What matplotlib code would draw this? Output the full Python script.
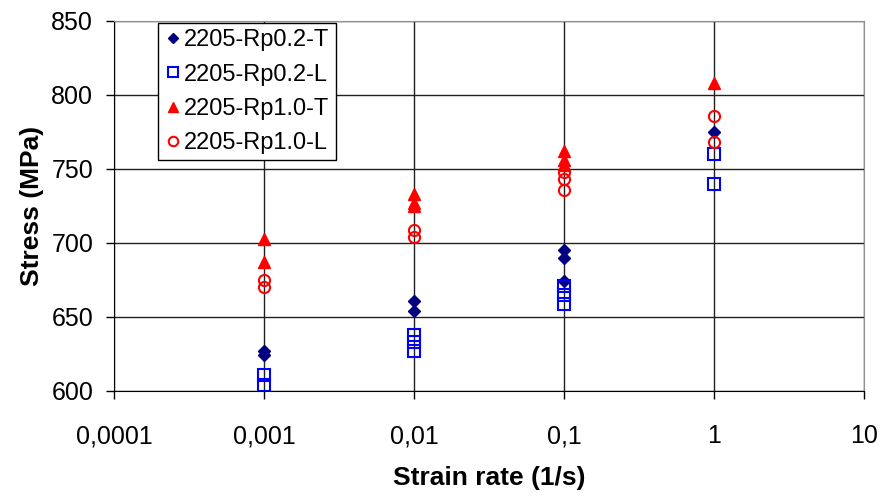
import numpy as np
import matplotlib.pyplot as plt

plt.rcParams['font.family'] = ['Liberation Sans', 'DejaVu Sans']

# strain rates (1/s) and stress values (MPa)
rp02_t_x = [0.001, 0.001, 0.01, 0.01, 0.1, 0.1, 0.1, 1]
rp02_t_y = [627, 624, 661, 654, 695, 690, 674, 775]
rp02_l_x = [0.001, 0.001, 0.01, 0.01, 0.01, 0.1, 0.1, 0.1, 1, 1]
rp02_l_y = [611, 604, 638, 633, 627, 671, 665, 659, 760, 740]
rp10_t_x = [0.001, 0.001, 0.01, 0.01, 0.01, 0.1, 0.1, 0.1, 1]
rp10_t_y = [703, 687, 733, 727, 725, 762, 756, 753, 808]
rp10_l_x = [0.001, 0.001, 0.01, 0.01, 0.1, 0.1, 0.1, 1, 1]
rp10_l_y = [675, 670, 709, 704, 748, 743, 736, 786, 768]

xticks = [0.0001, 0.001, 0.01, 0.1, 1, 10]
xticklabels = ["0,0001", "0,001", "0,01", "0,1", "1", "10"]
yticks = [600, 650, 700, 750, 800, 850]

fig = plt.figure(figsize=(8.82, 4.96), dpi=100)
ax = fig.add_axes([0.1293, 0.2117, 0.8503, 0.746])

ax.plot(rp02_t_x, rp02_t_y, linestyle="none", marker="D", markersize=6.5,
        color="#000080", label="2205-Rp0.2-T")
ax.plot(rp02_l_x, rp02_l_y, linestyle="none", marker="s", markersize=8,
        markerfacecolor="none", markeredgecolor="#0000FF", markeredgewidth=1.5,
        label="2205-Rp0.2-L")
ax.plot(rp10_t_x, rp10_t_y, linestyle="none", marker="^", markersize=9,
        color="#FF0000", label="2205-Rp1.0-T")
ax.plot(rp10_l_x, rp10_l_y, linestyle="none", marker="o", markersize=8,
        markerfacecolor="none", markeredgecolor="#FF0000", markeredgewidth=1.5,
        label="2205-Rp1.0-L")

ax.set_xscale("log")
ax.set_xlim(0.0001, 10)
ax.set_ylim(600, 850)
ax.set_xticks(xticks)
ax.set_xticklabels(xticklabels)
ax.set_yticks(yticks)
ax.minorticks_off()
ax.tick_params(labelsize=18, length=6, width=1, color="black")
ax.tick_params(axis="x", pad=18)
ax.tick_params(axis="y", pad=9)
ax.grid(True, color="#202020", linewidth=1)
ax.set_axisbelow(True)
ax.spines["top"].set_color("#909090")
ax.spines["right"].set_color("#909090")
ax.spines["left"].set_color("black")
ax.spines["bottom"].set_color("black")

ax.set_xlabel("Strain rate (1/s)", fontsize=19, fontweight="bold", labelpad=13)
ax.set_ylabel("Stress (MPa)", fontsize=19, fontweight="bold", labelpad=5)

leg = ax.legend(loc="upper left", bbox_to_anchor=(0.056, 1.0), fontsize=17,
                frameon=True, fancybox=False, handletextpad=0.15,
                handlelength=0.7, borderpad=0.25, labelspacing=0.52,
                borderaxespad=0.1, markerscale=0.85)
leg.get_frame().set_edgecolor("black")
leg.get_frame().set_linewidth(1)
leg.get_frame().set_alpha(1)

fig.savefig("out.png", dpi=100)
